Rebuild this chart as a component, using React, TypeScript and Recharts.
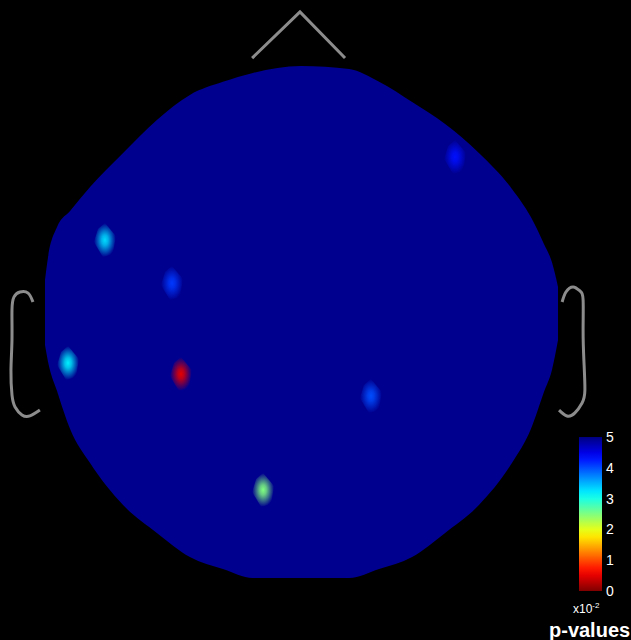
import React from "react";
import { ComposedChart, Area, Line, Scatter, XAxis, YAxis, BarChart, Bar } from "recharts";

// Head outline (head-centred units, radius ~1): x samples with bottom/top edges
const HEAD_X = [-1.0, -0.988, -0.953, -0.902, -0.824, -0.695, -0.563, -0.434, -0.305, -0.188, 0, 0.188, 0.305, 0.434, 0.563, 0.695, 0.824, 0.898, 0.949, 0.98, 1.004];
const HEAD_TOP = [0.164, 0.254, 0.371, 0.434, 0.527, 0.66, 0.789, 0.887, 0.938, 0.973, 1.0, 0.988, 0.938, 0.859, 0.773, 0.66, 0.52, 0.41, 0.305, 0.234, 0.137];
const HEAD_BOTTOM = [-0.09, -0.156, -0.27, -0.418, -0.551, -0.715, -0.824, -0.918, -0.965, -1.0, -1.0, -1.0, -0.965, -0.918, -0.824, -0.715, -0.551, -0.418, -0.273, -0.188, -0.07];

// Nose
const NOSE_X = [-0.191, -0.004, 0.172];
const NOSE_Y = [1.031, 1.211, 1.031];

// Ears
const LEFT_EAR_X = [-1.047, -1.066, -1.098, -1.121, -1.129, -1.129, -1.133, -1.129, -1.117, -1.09, -1.059, -1.02];
const LEFT_EAR_Y = [0.078, 0.113, 0.117, 0.098, 0.047, -0.07, -0.188, -0.285, -0.332, -0.363, -0.367, -0.344];
const RIGHT_EAR_X = [1.02, 1.035, 1.063, 1.09, 1.102, 1.102, 1.105, 1.109, 1.098, 1.07, 1.039, 1.008];
const RIGHT_EAR_Y = [0.078, 0.117, 0.137, 0.121, 0.086, -0.031, -0.148, -0.266, -0.316, -0.355, -0.367, -0.344];

// Electrodes with significant p-values (x10^-2)
const SPOT_X = [0.602, -0.766, -0.504, -0.91, -0.469, 0.273, -0.148];
const SPOT_Y = [0.645, 0.32, 0.152, -0.16, -0.203, -0.289, -0.656];
const SPOT_P = [4.3, 3.3, 4.1, 3.2, 0.5, 4.0, 2.5];

// Colour bar
const CB_TICKS = [0, 1, 2, 3, 4, 5];
const CB_MAX = 5;

const headData = HEAD_X.map((x, i) => ({ x, range: [HEAD_BOTTOM[i], HEAD_TOP[i]] }));
const noseData = NOSE_X.map((x, i) => ({ x, y: NOSE_Y[i] }));
const leftEarData = LEFT_EAR_X.map((x, i) => ({ x, y: LEFT_EAR_Y[i] }));
const rightEarData = RIGHT_EAR_X.map((x, i) => ({ x, y: RIGHT_EAR_Y[i] }));
const spotData = SPOT_X.map((x, i) => ({ x, y: SPOT_Y[i], p: SPOT_P[i], id: i }));
const cbData = [{ name: "p", v: CB_MAX }];

const jet = (p: number) => {
  const t = 1 - p / CB_MAX;
  const c = (v: number) => Math.round(255 * Math.max(0, Math.min(1, v)));
  return `rgb(${c(1.5 - Math.abs(4 * t - 3))},${c(1.5 - Math.abs(4 * t - 2))},${c(1.5 - Math.abs(4 * t - 1))})`;
};

const HEAD_COLOR = "#00008F";
const OUTLINE = "#8c8c8c";
const FONT = "'Liberation Sans', Arial, sans-serif";

const SpotShape = (props: any) => {
  const { cx, cy, payload } = props;
  if (cx == null || cy == null) return null;
  const col = jet(payload.p);
  const gid = `spot-${payload.id}`;
  return (
    <g>
      <defs>
        <radialGradient id={gid} cx="50%" cy="50%" r="50%">
          <stop offset="0%" stopColor={col} stopOpacity={1} />
          <stop offset="30%" stopColor={col} stopOpacity={0.8} />
          <stop offset="100%" stopColor={col} stopOpacity={0} />
        </radialGradient>
      </defs>
      <polygon
        points={`${cx},${cy - 17} ${cx + 11},${cy - 4} ${cx + 8},${cy + 14} ${cx - 2},${cy + 17} ${cx - 11},${cy + 2} ${cx - 7},${cy - 11}`}
        fill={`url(#${gid})`}
      />
    </g>
  );
};

const cbStops = Array.from({ length: 21 }, (_, i) => i / 20);

const ColorbarShape = (props: any) => {
  const { x, y, width, height } = props;
  return (
    <g>
      <defs>
        <linearGradient id="jetbar" x1="0" y1="0" x2="0" y2="1">
          {cbStops.map((o) => (
            <stop key={o} offset={`${o * 100}%`} stopColor={jet(CB_MAX * (1 - o))} />
          ))}
        </linearGradient>
      </defs>
      <rect x={x} y={y} width={width} height={height} fill="url(#jetbar)" />
    </g>
  );
};

export default function App() {
  return (
    <div style={{ position: "absolute", left: 0, top: 0, width: 631, height: 640, background: "#000", overflow: "hidden" }}>
      <ComposedChart width={631} height={640} margin={{ top: 0, right: 0, bottom: 0, left: 0 }}>
        <XAxis type="number" dataKey="x" domain={[-1.1758, 1.2891]} allowDataOverflow hide />
        <YAxis type="number" domain={[-1.2422, 1.2578]} allowDataOverflow hide />
        <Area
          data={headData}
          dataKey="range"
          type="monotone"
          stroke="none"
          fill={HEAD_COLOR}
          fillOpacity={1}
          dot={false}
          activeDot={false}
          isAnimationActive={false}
        />
        <Line data={noseData} dataKey="y" type="linear" stroke={OUTLINE} strokeWidth={3} dot={false} activeDot={false} isAnimationActive={false} />
        <Line data={leftEarData} dataKey="y" type="natural" stroke={OUTLINE} strokeWidth={3} dot={false} activeDot={false} isAnimationActive={false} />
        <Line data={rightEarData} dataKey="y" type="natural" stroke={OUTLINE} strokeWidth={3} dot={false} activeDot={false} isAnimationActive={false} />
        <Scatter data={spotData} dataKey="y" shape={SpotShape} isAnimationActive={false} />
      </ComposedChart>

      <div style={{ position: "absolute", left: 560, top: 427 }}>
        <BarChart width={71} height={174} data={cbData} margin={{ top: 10, right: 0, bottom: 10, left: 19 }} barCategoryGap={0}>
          <XAxis dataKey="name" hide />
          <YAxis
            orientation="right"
            type="number"
            domain={[0, CB_MAX]}
            ticks={CB_TICKS}
            axisLine={false}
            tickLine={false}
            tickSize={0}
            tickMargin={4}
            width={29}
            interval={0}
            tick={{ fill: "#fff", fontSize: 14, fontFamily: FONT }}
          />
          <Bar dataKey="v" shape={ColorbarShape} activeBar={false} isAnimationActive={false} />
        </BarChart>
      </div>

      <div style={{ position: "absolute", left: 573, top: 603, color: "#fff", fontFamily: FONT, fontSize: 12, lineHeight: "12px", whiteSpace: "nowrap" }}>
        x10<span style={{ fontSize: 8, position: "relative", top: -5 }}>-2</span>
      </div>
      <div style={{ position: "absolute", left: 549, top: 620, color: "#fff", fontFamily: FONT, fontSize: 20, fontWeight: "bold", lineHeight: "20px", whiteSpace: "nowrap" }}>
        p-values
      </div>
    </div>
  );
}
